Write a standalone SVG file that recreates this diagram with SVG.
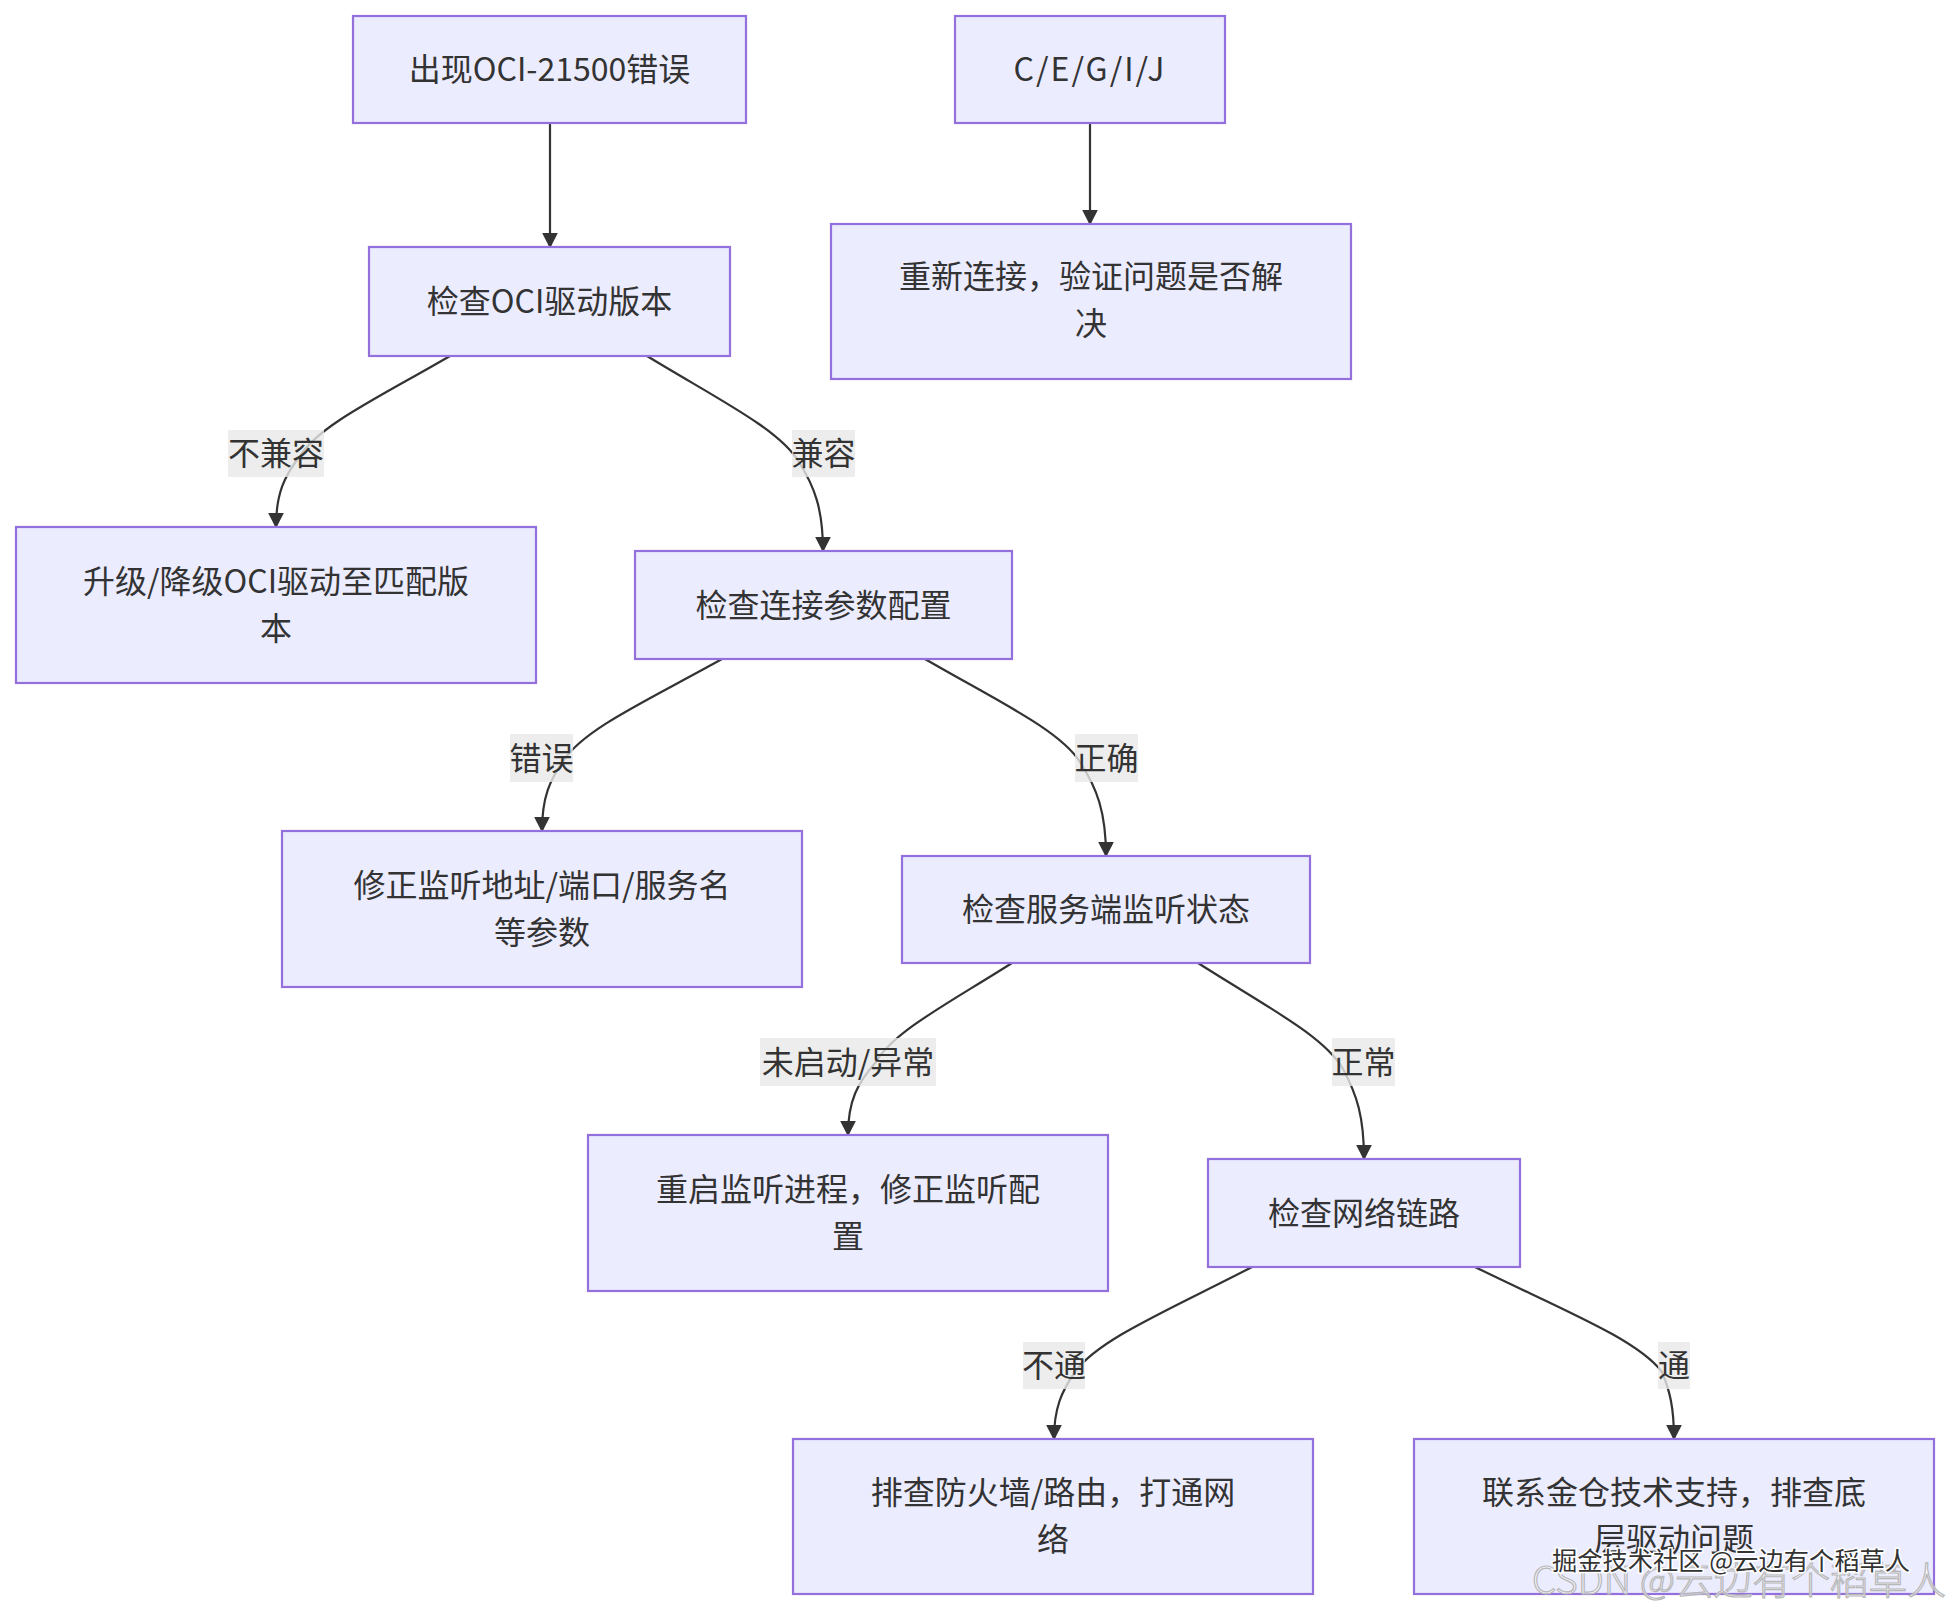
<svg xmlns="http://www.w3.org/2000/svg" width="1950" height="1612" viewBox="0 0 1950 1612">
<style>
.node rect{fill:#ECECFF;stroke:#9370DB;stroke-width:2.2}
.node text{font-family:"Noto Sans CJK SC","Noto Sans",sans-serif;font-size:32px;fill:#333333;text-anchor:middle}
.edges path{fill:none;stroke:#333333;stroke-width:2.2}
.lbl rect{fill:rgba(232,232,232,0.8)}
.lbl text{font-family:"Noto Sans CJK SC","Noto Sans",sans-serif;font-size:32px;fill:#333333;text-anchor:middle}
.wm1{font-family:"Noto Sans CJK SC",sans-serif;font-size:25px;fill:#333333;stroke:#ffffff;stroke-width:3;paint-order:stroke}
.wm2{font-family:"Noto Sans CJK SC",sans-serif;font-size:38px;font-weight:300;fill:rgba(255,255,255,0.6);stroke:#b8b8b8;stroke-width:1.2}
</style>
<defs>
<marker id="arrow" viewBox="0 0 10 10" refX="9" refY="5" markerUnits="userSpaceOnUse" markerWidth="16" markerHeight="16" orient="auto">
<path d="M0,0 L10,5 L0,10 z" fill="#333333"/>
</marker>
</defs>
<rect width="1950" height="1612" fill="#ffffff"/>
<g class="edges">
<path d="M550,123 L550,247" marker-end="url(#arrow)"/>
<path d="M1090,123 L1090,224" marker-end="url(#arrow)"/>
<path d="M450,356 C379.5,397 319.5,425 300,456 C284.4,475.9 276,493.6 276,527" marker-end="url(#arrow)"/>
<path d="M647,356 C718.4,399.5 779.2,429.1 799,462 C814.6,486.9 823,509.2 823,551" marker-end="url(#arrow)"/>
<path d="M722,659 C647.7,700.4 584.5,728.7 564,760 C549.7,779.9 542,797.6 542,831" marker-end="url(#arrow)"/>
<path d="M925,659 C997.9,701.2 1059.9,730.1 1080,762 C1096.9,788.3 1106,811.8 1106,856" marker-end="url(#arrow)"/>
<path d="M1012,963 C948.1,1003.6 893.7,1031.3 876,1062 C857.8,1082.4 848,1100.7 848,1135" marker-end="url(#arrow)"/>
<path d="M1198,963 C1266.2,1006.5 1324.2,1036.1 1343,1069 C1356.7,1094.2 1364,1116.7 1364,1159" marker-end="url(#arrow)"/>
<path d="M1252,1267 C1168.8,1310.1 1098,1339.5 1075,1372 C1062,1390.8 1054,1407.5 1054,1439" marker-end="url(#arrow)"/>
<path d="M1475,1267 C1562.9,1310.1 1637.7,1339.5 1662,1372 C1669.8,1390.8 1674,1407.5 1674,1439" marker-end="url(#arrow)"/>
</g>
<g class="lbl" id="edge-labels">
<g><rect x="228" y="430" width="96" height="47"/><text x="276" y="465">不兼容</text></g>
<g><rect x="792" y="430" width="63" height="47"/><text x="823.5" y="465">兼容</text></g>
<g><rect x="510" y="734" width="63" height="48"/><text x="541.5" y="769.5">错误</text></g>
<g><rect x="1075" y="734" width="63" height="48"/><text x="1106.5" y="769.5">正确</text></g>
<g><rect x="760" y="1038" width="176" height="48"/><text x="848" y="1073.5">未启动/异常</text></g>
<g><rect x="1332" y="1038" width="63" height="48"/><text x="1363.5" y="1073.5">正常</text></g>
<g><rect x="1023" y="1342" width="62" height="47"/><text x="1054" y="1377">不通</text></g>
<g><rect x="1658" y="1342" width="32" height="47"/><text x="1674" y="1377">通</text></g>
</g>
<g id="n1" class="node"><rect x="353" y="16" width="393" height="107"/><text x="549.5" y="81">出现OCI-21500错误</text></g>
<g id="n2" class="node"><rect x="955" y="16" width="270" height="107"/><text x="1090" y="81" letter-spacing="2">C/E/G/I/J</text></g>
<g id="n3" class="node"><rect x="369" y="247" width="361" height="109"/><text x="549.5" y="313">检查OCI驱动版本</text></g>
<g id="n4" class="node"><rect x="831" y="224" width="520" height="155"/><text x="1091" y="288">重新连接，验证问题是否解</text><text x="1091" y="335">决</text></g>
<g id="n5" class="node"><rect x="16" y="527" width="520" height="156"/><text x="276" y="593">升级/降级OCI驱动至匹配版</text><text x="276" y="640">本</text></g>
<g id="n6" class="node"><rect x="635" y="551" width="377" height="108"/><text x="823.5" y="616.5">检查连接参数配置</text></g>
<g id="n7" class="node"><rect x="282" y="831" width="520" height="156"/><text x="542" y="897">修正监听地址/端口/服务名</text><text x="542" y="944">等参数</text></g>
<g id="n8" class="node"><rect x="902" y="856" width="408" height="107"/><text x="1106" y="921">检查服务端监听状态</text></g>
<g id="n9" class="node"><rect x="588" y="1135" width="520" height="156"/><text x="848" y="1201">重启监听进程，修正监听配</text><text x="848" y="1248">置</text></g>
<g id="n10" class="node"><rect x="1208" y="1159" width="312" height="108"/><text x="1364" y="1224.5">检查网络链路</text></g>
<g id="n11" class="node"><rect x="793" y="1439" width="520" height="155"/><text x="1053" y="1504">排查防火墙/路由，打通网</text><text x="1053" y="1551">络</text></g>
<g id="n12" class="node"><rect x="1414" y="1439" width="520" height="155"/><text x="1674" y="1504">联系金仓技术支持，排查底</text><text x="1674" y="1551">层驱动问题</text></g>
<g id="watermark">
<text class="wm2" x="1532" y="1594" textLength="414" lengthAdjust="spacingAndGlyphs">CSDN @云边有个稻草人</text>
<text class="wm1" x="1552" y="1570" textLength="358" lengthAdjust="spacingAndGlyphs">掘金技术社区 @云边有个稻草人</text>
</g>
</svg>
